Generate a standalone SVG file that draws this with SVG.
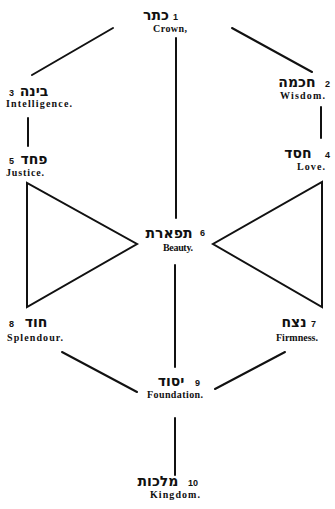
<svg xmlns="http://www.w3.org/2000/svg" width="335" height="509" viewBox="0 0 335 509">
<style>
.heb{font-family:"DejaVu Sans","Liberation Sans",sans-serif;font-size:14px;font-weight:bold;fill:#111;text-anchor:middle}
.num{font-family:"Liberation Sans",Arial,sans-serif;font-size:9px;font-weight:bold;fill:#111}
.lbl{font-family:"Liberation Serif","Times New Roman",serif;font-size:10px;font-weight:bold;fill:#111}
.ln{stroke:#111;stroke-width:2;fill:none;stroke-linecap:round;stroke-linejoin:miter}
</style>
<rect width="335" height="509" fill="#fff"/>
<g id="connectors">
<line class="ln" x1="32" y1="75" x2="113" y2="28"/>
<line class="ln" x1="232" y1="28" x2="312" y2="72"/>
<line class="ln" x1="176" y1="38" x2="176" y2="218"/>
<line class="ln" x1="175" y1="265" x2="175" y2="367"/>
<line class="ln" x1="28" y1="118" x2="28" y2="146"/>
<line class="ln" x1="321" y1="107" x2="321" y2="138"/>
<polygon class="ln" points="27,183 27,307 137,244"/>
<polygon class="ln" points="322,182 322,307 213,244"/>
<line class="ln" x1="62" y1="352" x2="137" y2="392"/>
<line class="ln" x1="285" y1="352" x2="215" y2="389"/>
<line class="ln" x1="175" y1="418" x2="175" y2="475"/>
</g>
<g id="n1"><text class="heb" x="156" y="20">כתר</text><text class="num" x="173" y="20">1</text><text class="lbl" x="153" y="32" textLength="34" lengthAdjust="spacing">Crown,</text></g>
<g id="n2"><text class="heb" x="297" y="87">חכמה</text><text class="num" x="325" y="87">2</text><text class="lbl" x="280" y="99" textLength="45" lengthAdjust="spacing">Wisdom.</text></g>
<g id="n3"><text class="num" x="9" y="96">3</text><text class="heb" x="34" y="96">בינה</text><text class="lbl" x="6" y="107" textLength="66" lengthAdjust="spacing">Intelligence.</text></g>
<g id="n4"><text class="heb" x="298" y="158">חסד</text><text class="num" x="325" y="158">4</text><text class="lbl" x="297" y="170" textLength="28" lengthAdjust="spacing">Love.</text></g>
<g id="n5"><text class="num" x="9" y="164">5</text><text class="heb" x="34" y="164">פחד</text><text class="lbl" x="6" y="176" textLength="38" lengthAdjust="spacing">Justice.</text></g>
<g id="n6"><text class="heb" x="169" y="238">תפארת</text><text class="num" x="200" y="236">6</text><text class="lbl" x="163" y="251" textLength="30" lengthAdjust="spacing">Beauty.</text></g>
<g id="n7"><text class="heb" x="294" y="327">נצח</text><text class="num" x="311" y="327">7</text><text class="lbl" x="276" y="341" textLength="42" lengthAdjust="spacing">Firmness.</text></g>
<g id="n8"><text class="num" x="9" y="327">8</text><text class="heb" x="36" y="327">חוד</text><text class="lbl" x="7" y="341" textLength="56" lengthAdjust="spacing">Splendour.</text></g>
<g id="n9"><text class="heb" x="171" y="386">יסוד</text><text class="num" x="195" y="386">9</text><text class="lbl" x="147" y="398" textLength="56" lengthAdjust="spacing">Foundation.</text></g>
<g id="n10"><text class="heb" x="158" y="486">מלכות</text><text class="num" x="188" y="486">10</text><text class="lbl" x="150" y="498" textLength="50" lengthAdjust="spacing">Kingdom.</text></g>
</svg>
